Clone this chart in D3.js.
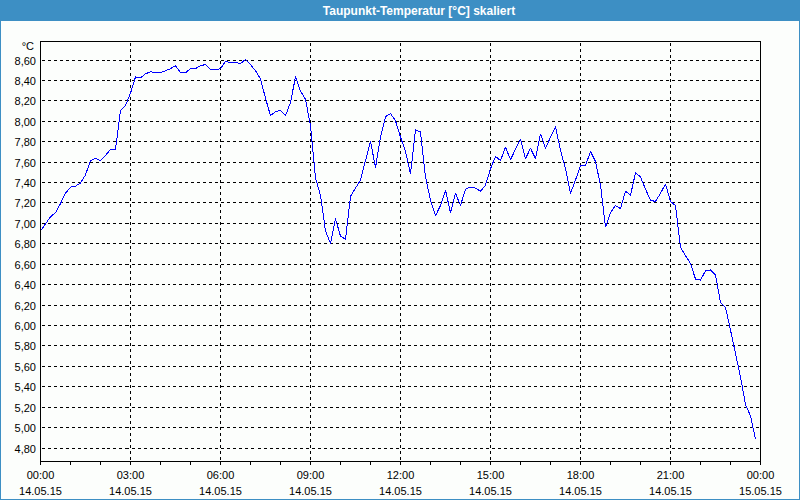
<!DOCTYPE html>
<html>
<head>
<meta charset="utf-8">
<script src="https://cdn.jsdelivr.net/npm/d3@7"></script>
<style>
  html, body { margin: 0; padding: 0; background: #ffffff; }
  svg { display: block; }
</style>
</head>
<body>
<script>
// ---- data (10-minute readings, 14.05.15 00:00 - 23:50) ----
const values = [
  6.92, 6.99, 7.06, 7.10, 7.19, 7.29, 7.35, 7.36, 7.39, 7.47,
  7.61, 7.63, 7.61, 7.66, 7.72, 7.72, 8.10, 8.15, 8.27, 8.43,
  8.42, 8.46, 8.48, 8.47, 8.47, 8.49, 8.51, 8.54, 8.47, 8.47,
  8.51, 8.51, 8.54, 8.55, 8.50, 8.50, 8.51, 8.58, 8.57, 8.57,
  8.56, 8.60, 8.55, 8.49, 8.41, 8.22, 8.05, 8.09, 8.10, 8.05,
  8.18, 8.43, 8.29, 8.21, 7.95, 7.44, 7.27, 6.92, 6.80, 7.04,
  6.87, 6.84, 7.26, 7.34, 7.42, 7.61, 7.80, 7.54, 7.84, 8.04,
  8.07, 8.00, 7.84, 7.70, 7.48, 7.91, 7.89, 7.45, 7.22, 7.07,
  7.17, 7.32, 7.10, 7.29, 7.17, 7.33, 7.35, 7.34, 7.31, 7.37,
  7.53, 7.65, 7.61, 7.74, 7.62, 7.72, 7.82, 7.63, 7.73, 7.63,
  7.87, 7.73, 7.84, 7.94, 7.71, 7.53, 7.29, 7.42, 7.56, 7.56,
  7.70, 7.60, 7.37, 6.96, 7.10, 7.17, 7.14, 7.31, 7.27, 7.49,
  7.45, 7.33, 7.22, 7.21, 7.29, 7.38, 7.21, 7.17, 6.76, 6.68,
  6.60, 6.45, 6.44, 6.53, 6.54, 6.49, 6.22, 6.17, 5.95, 5.72,
  5.49, 5.22, 5.11, 4.88
];
const startTime = new Date(2015, 4, 14, 0, 0);
const endTime = new Date(2015, 4, 15, 0, 0);
const stepMinutes = 10;

const yTicks = [4.8, 5.0, 5.2, 5.4, 5.6, 5.8, 6.0, 6.2, 6.4, 6.6, 6.8, 7.0, 7.2, 7.4, 7.6, 7.8, 8.0, 8.2, 8.4, 8.6];
const xTickHours = [0, 3, 6, 9, 12, 15, 18, 21, 24];
const xTimeLabels = ["00:00", "03:00", "06:00", "09:00", "12:00", "15:00", "18:00", "21:00", "00:00"];
const xDateLabels = ["14.05.15", "14.05.15", "14.05.15", "14.05.15", "14.05.15", "14.05.15", "14.05.15", "14.05.15", "15.05.15"];
const title = "Taupunkt-Temperatur [°C] skaliert";
const unitLabel = "°C";

// ---- layout ----
const W = 800, H = 500;
const plot = { left: 40.5, right: 760.5, top: 41.5, bottom: 461.5 };
const blue = "#3d8fc4";
const font = "'Liberation Sans', Arial, sans-serif";

const svg = d3.select("body").append("svg").attr("width", W).attr("height", H);

// background and outer frame
svg.append("rect").attr("x", 0).attr("y", 0).attr("width", W).attr("height", H).attr("fill", blue);
svg.append("rect").attr("x", 1).attr("y", 21).attr("width", W - 2).attr("height", H - 22).attr("fill", "#fcfefc");

// title
svg.append("text")
  .attr("x", 419).attr("y", 11)
  .attr("text-anchor", "middle").attr("dominant-baseline", "central")
  .attr("font-family", font).attr("font-size", 12).attr("font-weight", "bold")
  .attr("fill", "#ffffff")
  .text(title);

// scales
const x = d3.scaleTime().domain([startTime, endTime]).range([plot.left, plot.right]);
const y = d3.scaleLinear().domain([4.8, 8.6]).range([447.5, 59.5]);

const grid = svg.append("g").attr("shape-rendering", "crispEdges");
// horizontal grid
grid.selectAll("line.h").data(yTicks).join("line")
  .attr("class", "h")
  .attr("x1", plot.left + 1).attr("x2", plot.right - 1)
  .attr("y1", d => Math.round(y(d)) + 0.5).attr("y2", d => Math.round(y(d)) + 0.5)
  .attr("stroke", "#000").attr("stroke-width", 1).attr("stroke-dasharray", "3,3");
// vertical grid
const hourTime = h => d3.timeHour.offset(startTime, h);
grid.selectAll("line.v").data(xTickHours.slice(1, -1)).join("line")
  .attr("class", "v")
  .attr("x1", d => Math.round(x(hourTime(d)) - 0.5) + 0.5).attr("x2", d => Math.round(x(hourTime(d)) - 0.5) + 0.5)
  .attr("y1", plot.top + 1).attr("y2", plot.bottom - 1)
  .attr("stroke", "#000").attr("stroke-width", 1).attr("stroke-dasharray", "3,3");

// y tick labels
svg.append("g").selectAll("text").data(yTicks).join("text")
  .attr("x", 36).attr("y", d => Math.round(y(d)) + 0.5)
  .attr("text-anchor", "end").attr("dominant-baseline", "central")
  .attr("font-family", font).attr("font-size", 11).attr("fill", "#000")
  .text(d => d3.format(".2f")(d).replace(".", ","));

svg.append("text")
  .attr("x", 34).attr("y", 46)
  .attr("text-anchor", "end").attr("dominant-baseline", "central")
  .attr("font-family", font).attr("font-size", 11).attr("fill", "#000")
  .text(unitLabel);

// x axis hourly ticks
const hours = d3.range(0, 25);
svg.append("g").attr("shape-rendering", "crispEdges").selectAll("line").data(hours).join("line")
  .attr("x1", d => Math.round(x(hourTime(d)) - 0.5) + 0.5).attr("x2", d => Math.round(x(hourTime(d)) - 0.5) + 0.5)
  .attr("y1", plot.bottom).attr("y2", plot.bottom + 3)
  .attr("stroke", "#000");

// x labels
const xl = svg.append("g").attr("font-family", font).attr("font-size", 11).attr("fill", "#000");
xl.selectAll("text.t").data(xTickHours).join("text")
  .attr("class", "t")
  .attr("x", d => x(hourTime(d))).attr("y", 475)
  .attr("text-anchor", "middle").attr("dominant-baseline", "central")
  .text((d, i) => xTimeLabels[i]);
xl.selectAll("text.d").data(xTickHours).join("text")
  .attr("class", "d")
  .attr("x", d => x(hourTime(d))).attr("y", 491)
  .attr("text-anchor", "middle").attr("dominant-baseline", "central")
  .text((d, i) => xDateLabels[i]);

// data line
const pts = values.map((v, i) => ({ t: d3.timeMinute.offset(startTime, i * stepMinutes), v }));
const line = d3.line().x(d => x(d.t)).y(d => y(d.v));
svg.append("path").datum(pts)
  .attr("d", line)
  .attr("fill", "none").attr("stroke", "#0000ff").attr("stroke-width", 1)
  .attr("stroke-linejoin", "round")
  .attr("shape-rendering", "crispEdges");

// plot frame
svg.append("rect")
  .attr("x", plot.left).attr("y", plot.top)
  .attr("width", plot.right - plot.left).attr("height", plot.bottom - plot.top)
  .attr("fill", "none").attr("stroke", "#000").attr("stroke-width", 1)
  .attr("shape-rendering", "crispEdges");
</script>
</body>
</html>
